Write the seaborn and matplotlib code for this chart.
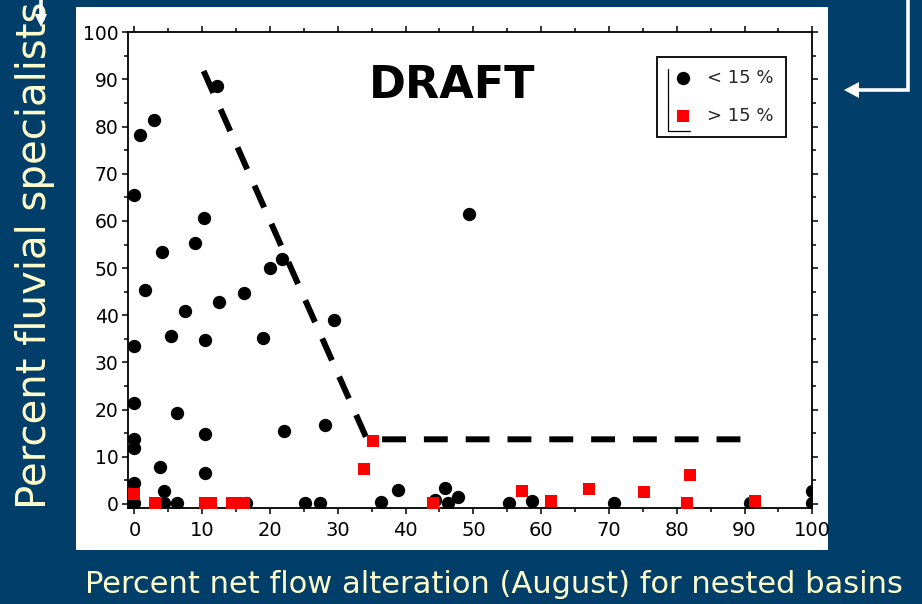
import matplotlib
matplotlib.use("Agg")
import matplotlib.pyplot as plt
from matplotlib.lines import Line2D
from matplotlib.patches import Rectangle, Polygon
from matplotlib.ticker import MultipleLocator
import seaborn as sns
import pandas as pd

# ---- data ----
low_x = [0, 0.8, 2.9, 12.2, 4.0, 8.9, 10.2, 1.5, 20.0, 21.8, 49.4, 16.2, 12.4, 7.4,
         5.4, 10.4, 19.0, 29.4, 0, 0, 6.2, 22.0, 28.1, 10.4, 0, 0, 3.8, 10.4, 0,
         4.3, 0, 4.3, 6.3, 16.5, 25.1, 27.4, 36.4, 38.9, 44.3, 45.8, 46.3, 47.8,
         55.2, 58.7, 70.7, 90.8, 100, 100]
low_y = [65.4, 78.2, 81.4, 88.6, 53.4, 55.3, 60.7, 45.4, 50.1, 51.9, 61.4, 44.7, 42.8,
         41.0, 35.5, 34.8, 35.2, 38.9, 33.4, 21.3, 19.2, 15.5, 16.7, 14.8, 13.8, 11.9,
         7.9, 6.5, 4.4, 2.8, 0.3, 0.3, 0.3, 0.3, 0.3, 0.3, 0.4, 3.0, 0.9, 3.3, 0.3,
         1.4, 0.3, 0.7, 0.3, 0.3, 0.3, 2.8]
high_x = [0, 3.05, 10.4, 11.3, 14.4, 16.2, 33.9, 35.2, 44.0, 57.2, 61.5, 67.1, 75.2,
          81.5, 82.0, 91.6]
high_y = [2.1, 0.3, 0.3, 0.3, 0.3, 0.3, 7.5, 13.4, 0.3, 2.8, 0.6, 3.2, 2.5, 0.3, 6.1, 0.6]
groups = ["< 15 %", "> 15 %"]
line_x = [10.2, 34.3, 89.5]
line_y = [91.8, 13.7, 13.7]
x_ticks = list(range(0, 101, 10))
y_ticks = list(range(0, 101, 10))
title_text = "DRAFT"
x_label = "Percent net flow alteration (August) for nested basins"
y_label = "Percent fluvial specialists"

BG = "#013e6a"
LABEL_C = "#ffffcc"

sns.set_theme(style="ticks")
plt.rcParams["font.family"] = ["DejaVu Sans"]

W, H = 922, 604
fig = plt.figure(figsize=(W / 100, H / 100), dpi=100, facecolor=BG)

def fx(px):
    return px / W

def fy(py):
    return 1 - py / H

# white panel
fig.patches.append(Rectangle((fx(76), fy(550)), fx(828) - fx(76), fy(7) - fy(550),
                             transform=fig.transFigure, facecolor="white",
                             edgecolor="none", zorder=-5))

ax = fig.add_axes([fx(127.7), fy(507.7), fx(812.3) - fx(127.7), fy(32.3) - fy(507.7)])
ax.set_zorder(2)
ax.set_facecolor("white")

df_low = pd.DataFrame({"x": low_x, "y": low_y, "grp": groups[0]})
df_high = pd.DataFrame({"x": high_x, "y": high_y, "grp": groups[1]})
df_line = pd.DataFrame({"x": line_x, "y": line_y})

sns.lineplot(data=df_line, x="x", y="y", sort=False, estimator=None, ax=ax,
             color="black", lw=4.3, linestyle=(0, (4, 3)), zorder=2)
sns.scatterplot(data=df_low, x="x", y="y", ax=ax, marker="o", color="black", s=92,
                linewidth=0, label=groups[0], zorder=3)
sns.scatterplot(data=df_high, x="x", y="y", ax=ax, marker="s", color="#ff0000", s=74,
                linewidth=0, label=groups[1], zorder=4)

ax.set_xlim(-1, 100)
ax.set_ylim(-0.8, 100)
ax.set_xticks(x_ticks)
ax.set_yticks(y_ticks)
ax.xaxis.set_minor_locator(MultipleLocator(5))
ax.yaxis.set_minor_locator(MultipleLocator(5))
ax.set_xlabel("")
ax.set_ylabel("")
for s in ax.spines.values():
    s.set_visible(True)
    s.set_color("black")
    s.set_linewidth(1.3)
ax.tick_params(axis="both", which="both", direction="out", color="black",
               top=True, right=True, bottom=True, left=True, width=1.1)
ax.tick_params(which="major", length=4.5)
ax.tick_params(which="minor", length=3.2)
ax.tick_params(axis="x", which="major", labelsize=14, pad=5, labelcolor="black")
ax.tick_params(axis="y", which="major", labelsize=13.5, pad=2, labelcolor="black")

ax.text(46.8, 86.1, title_text, ha="center", va="baseline", fontsize=32,
        fontweight="bold", color="black", zorder=5)

leg = ax.legend(loc="upper right", bbox_to_anchor=(fx(786), fy(56.7)),
                bbox_transform=fig.transFigure, fontsize=13, frameon=True,
                fancybox=False, edgecolor="black", framealpha=1, borderpad=0.67,
                labelspacing=1.1, handlelength=1.48, handletextpad=0.62,
                borderaxespad=0, markerscale=1.0)
leg.get_frame().set_linewidth(1.3)
leg.set_zorder(6)

# origin-style bracket inside the legend
fig.add_artist(Line2D([fx(667.7), fx(667.7), fx(690)], [fy(69), fy(131), fy(131)],
                      transform=fig.transFigure, color="black", lw=0.9, zorder=7))

# axis labels on the dark background
fig.text(fx(35), fy(255.5), y_label, rotation=90, ha="center", va="center",
         fontsize=29, color=LABEL_C)
fig.text(fx(494), fy(593), x_label, ha="center", va="baseline", fontsize=22,
         color=LABEL_C)

# white slide arrows
fig.add_artist(Line2D([fx(908), fx(908), fx(856)], [fy(-5), fy(90), fy(90)],
                      transform=fig.transFigure, color="white", lw=2.6,
                      solid_joinstyle="miter", zorder=8))
fig.add_artist(Polygon([[fx(844), fy(90)], [fx(859), fy(82)], [fx(859), fy(98)]],
                       closed=True, transform=fig.transFigure, facecolor="white",
                       edgecolor="none", zorder=8))
fig.add_artist(Line2D([fx(40.5), fx(40.5)], [fy(-5), fy(16)],
                      transform=fig.transFigure, color="white", lw=2.6, zorder=8))
fig.add_artist(Polygon([[fx(41), fy(27)], [fx(34.5), fy(14)], [fx(47), fy(14)]],
                       closed=True, transform=fig.transFigure, facecolor="white",
                       edgecolor="none", zorder=8))

fig.savefig("out.png", dpi=100, facecolor=BG)
